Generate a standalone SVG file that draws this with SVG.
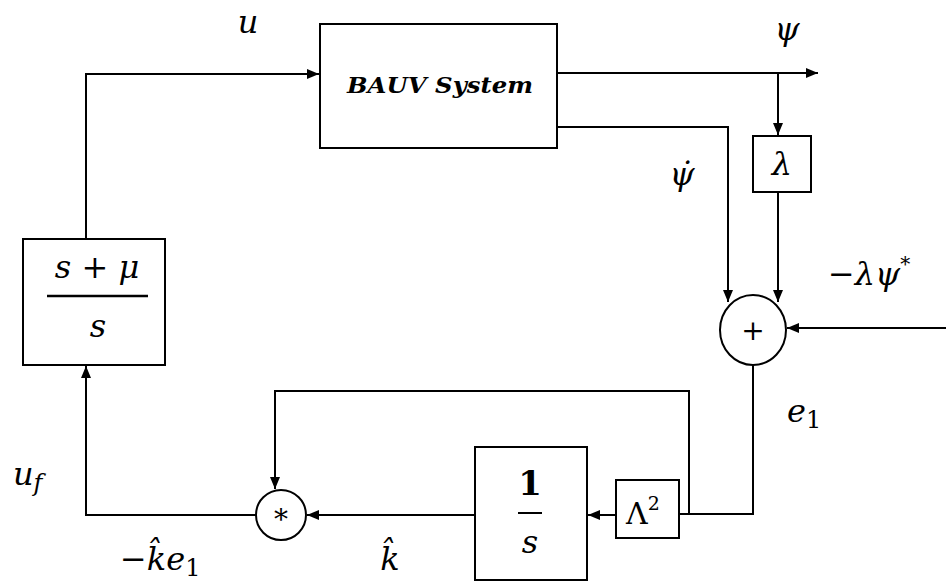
<svg xmlns="http://www.w3.org/2000/svg" width="946" height="583" viewBox="0 0 946 583">
<defs>
<style>
.blk{fill:#fff;stroke:#000;stroke-width:2}
.ln{fill:none;stroke:#000;stroke-width:2}
.m{font-family:'DejaVu Serif','Liberation Serif',serif;font-style:italic;fill:#000}
.r{font-family:'DejaVu Serif','Liberation Serif',serif;fill:#000}
</style>
<marker id="ah" viewBox="0 0 12 10" refX="12" refY="5" markerWidth="12" markerHeight="10" markerUnits="userSpaceOnUse" orient="auto">
<path d="M0 0 L12 5 L0 10 Z" fill="#000"/>
</marker>
</defs>
<rect width="946" height="583" fill="#fff"/>

<g id="connectors">
<path class="ln" d="M86 239 V74 H319" marker-end="url(#ah)"/>
<path class="ln" d="M557 73 H818" marker-end="url(#ah)"/>
<path class="ln" d="M778 73 V135" marker-end="url(#ah)"/>
<path class="ln" d="M778 192 V302" marker-end="url(#ah)"/>
<path class="ln" d="M557 127 H728 V302" marker-end="url(#ah)"/>
<path class="ln" d="M946 328 H787" marker-end="url(#ah)"/>
<path class="ln" d="M753 365 V514 H680"/>
<path class="ln" d="M616 515 H588" marker-end="url(#ah)"/>
<path class="ln" d="M689 514 V391 H275 V489" marker-end="url(#ah)"/>
<path class="ln" d="M475 515 H307" marker-end="url(#ah)"/>
<path class="ln" d="M256 515 H86 V366" marker-end="url(#ah)"/>
</g>

<g id="bauv">
<rect class="blk" x="320" y="24" width="237" height="124"/>
<text class="r" x="347" y="93" font-size="22" font-weight="bold" font-style="italic" textLength="186" lengthAdjust="spacingAndGlyphs">BAUV System</text>
</g>

<g id="lambda">
<rect class="blk" x="753" y="136" width="58" height="56"/>
<text class="m" x="782" y="175" font-size="32" text-anchor="middle">λ</text>
</g>

<g id="sum">
<ellipse class="blk" cx="753" cy="330" rx="33" ry="35"/>
<text class="r" x="753" y="340" font-size="28" text-anchor="middle">+</text>
</g>

<g id="lambda2">
<rect class="blk" x="616" y="480" width="63" height="58"/>
<text class="r" x="643" y="524" font-size="30" text-anchor="middle">Λ<tspan font-size="19" dy="-14">2</tspan></text>
</g>

<g id="integrator">
<rect class="blk" x="475" y="447" width="112" height="133"/>
<text class="r" x="530" y="495" font-size="34" font-weight="bold" text-anchor="middle">1</text>
<line class="ln" x1="518" y1="513" x2="542" y2="513"/>
<text class="m" x="530" y="553" font-size="32" text-anchor="middle">s</text>
</g>

<g id="product">
<circle class="blk" cx="281" cy="515" r="25"/>
<text class="r" x="281" y="529" font-size="28" text-anchor="middle">*</text>
</g>

<g id="controller">
<rect class="blk" x="23" y="239" width="142" height="126"/>
<text class="m" x="97" y="278" font-size="32" text-anchor="middle">s <tspan font-style="normal">+</tspan> μ</text>
<line x1="47" y1="296" x2="148" y2="296" stroke="#000" stroke-width="2.5"/>
<text class="m" x="98" y="337" font-size="32" text-anchor="middle">s</text>
</g>

<g id="labels">
<text class="m" x="248" y="33" font-size="32" text-anchor="middle">u</text>
<text class="m" x="787" y="40" font-size="32" text-anchor="middle">ψ</text>
<text class="m" x="682" y="185" font-size="32" text-anchor="middle">ψ̇</text>
<text class="m" x="828" y="285" font-size="32"><tspan font-style="normal">−</tspan>λψ<tspan font-size="20" dy="-14" font-style="normal">*</tspan></text>
<text class="m" x="787" y="422" font-size="32">e<tspan font-style="normal" font-size="24" dy="6">1</tspan></text>
<text class="m" x="13" y="485" font-size="32">u<tspan font-size="24" dy="6">f</tspan></text>
<text class="m" x="120" y="570" font-size="32"><tspan font-style="normal">−</tspan>k̂e<tspan font-style="normal" font-size="24" dy="6">1</tspan></text>
<text class="m" x="390" y="570" font-size="32" text-anchor="middle">k̂</text>
</g>
</svg>
